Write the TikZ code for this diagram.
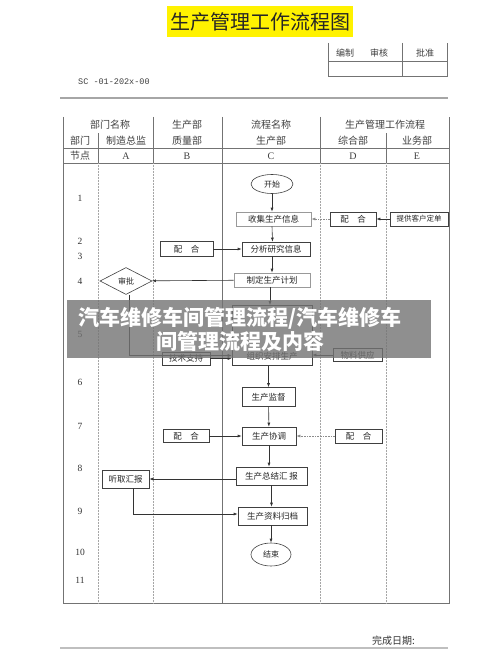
\documentclass[tikz,border=0pt]{standalone}
\usepackage{fontspec}
\setmainfont{Noto Sans CJK SC}
\newfontfamily\lat{Liberation Serif}
\newfontfamily\latmono{Liberation Mono}
\usetikzlibrary{arrows.meta,shapes.geometric}
\begin{document}
\begin{tikzpicture}[x=1pt,y=-1pt,
  box/.style={draw=black!75,line width=0.6pt,minimum height=14pt,inner sep=0pt,text=black!85,font=\fontsize{8.5}{9}\selectfont},
  lbox/.style={box,draw=black!40},
  ell/.style={ellipse,draw=black!75,line width=0.6pt,inner sep=0pt,text=black!85,font=\fontsize{8}{9}\selectfont},
  arr/.style={-{Latex[length=4pt,width=3pt]},line width=0.6pt,draw=black!80},
  darr/.style={arr,densely dotted,draw=black!45},
  tline/.style={draw=black!55,line width=0.6pt},
  dline/.style={draw=black!35,line width=0.5pt,densely dotted},
  hdr/.style={inner sep=0pt,text=black!75,font=\fontsize{10}{11}\selectfont},
  rowlbl/.style={inner sep=0pt,text=black!80,font=\lat\fontsize{9.5}{10}\selectfont},
  banner/.style={inner sep=0pt,text=white,font=\bfseries\fontsize{21}{23}\selectfont}
]
\useasboundingbox (0,0) rectangle (500,666);
\fill[white] (0,0) rectangle (500,666);

% title
\node[fill=yellow,minimum width=186,minimum height=31,inner sep=0pt,text=black!85,font=\fontsize{20}{22}\selectfont] (title) at (260,22) {生产管理工作流程图};

% sign-off table
\draw[tline] (328,43) -- (328,76) -- (447,76) -- (447,43);
\draw[tline] (402,43) -- (402,76);
\draw[tline] (328,61) -- (447,61);
\node[hdr,font=\fontsize{9}{10}\selectfont] (bz) at (345,53) {编制};
\node[hdr,font=\fontsize{9}{10}\selectfont] (sh) at (379,53) {审核};
\node[hdr,font=\fontsize{9}{10}\selectfont] (pz) at (425,53) {批准};

\node[anchor=west,inner sep=0pt,text=black!75,font=\latmono\fontsize{8.5}{9}\selectfont] (code) at (78,82) {SC -01-202x-00};

\draw[draw=black!35,line width=1.2pt] (60,98) -- (448,98);

% main table frame
\draw[tline] (63,117) -- (63,603) -- (449,603) -- (449,117);
\draw[tline] (63,148) -- (449,148);
\draw[tline] (63,163) -- (449,163);
\draw[tline] (222,117) -- (222,603);
\draw[tline] (153,117) -- (153,163);
\draw[tline] (320,117) -- (320,163);
\draw[tline] (98,133) -- (98,163);
\draw[tline] (386,133) -- (386,163);
\draw[dline] (98,163) -- (98,603);
\draw[dline] (153,163) -- (153,603);
\draw[dline] (320,163) -- (320,603);
\draw[dline] (386,163) -- (386,603);

% header texts
\node[hdr] (h1a) at (110,125) {部门名称};
\node[hdr] (h1b) at (187,125) {生产部};
\node[hdr] (h1c) at (271,125) {流程名称};
\node[hdr] (h1d) at (385,125) {生产管理工作流程};
\node[hdr] (h2a) at (80,141) {部门};
\node[hdr] (h2b) at (126,141) {制造总监};
\node[hdr] (h2c) at (187,141) {质量部};
\node[hdr] (h2d) at (271,141) {生产部};
\node[hdr] (h2e) at (353,141) {综合部};
\node[hdr] (h2f) at (417,141) {业务部};
\node[hdr] (h3a) at (80,156) {节点};
\node[hdr,font=\lat\fontsize{10}{11}\selectfont] (h3b) at (126,156) {A};
\node[hdr,font=\lat\fontsize{10}{11}\selectfont] (h3c) at (187,156) {B};
\node[hdr,font=\lat\fontsize{10}{11}\selectfont] (h3d) at (271,156) {C};
\node[hdr,font=\lat\fontsize{10}{11}\selectfont] (h3e) at (353,156) {D};
\node[hdr,font=\lat\fontsize{10}{11}\selectfont] (h3f) at (417,156) {E};

% row numbers
\node[rowlbl] (r1) at (80,198) {1};
\node[rowlbl] (r2) at (80,241) {2};
\node[rowlbl] (r3) at (80,256) {3};
\node[rowlbl] (r4) at (80,281) {4};
\node[rowlbl] (r5) at (80,334) {5};
\node[rowlbl] (r6) at (80,382) {6};
\node[rowlbl] (r7) at (80,426) {7};
\node[rowlbl] (r8) at (80,468) {8};
\node[rowlbl] (r9) at (80,511) {9};
\node[rowlbl] (r10) at (80,552) {10};
\node[rowlbl] (r11) at (80,580) {11};

% flow nodes
\node[ell,minimum width=42,minimum height=19] (start) at (272,184) {开始};
\node[lbox,minimum width=75] (collect) at (273.5,219) {收集生产信息};
\node[box,minimum width=46] (coopD1) at (353,219) {配\quad 合};
\node[box,minimum width=58,font=\fontsize{7.5}{8}\selectfont] (cust) at (419,219) {提供客户定单};
\node[box,minimum width=68] (analyze) at (276,249) {分析研究信息};
\node[box,minimum width=53,minimum height=15] (coopB1) at (186.5,249) {配\quad 合};
\node[lbox,minimum width=76] (plan) at (272,280) {制定生产计划};
\node[diamond,draw=black!75,line width=0.6pt,inner sep=0pt,aspect=1.9,minimum width=52,minimum height=27,text=black!85,font=\fontsize{8}{9}\selectfont] (approve) at (126,281) {审批};
\node[box,minimum width=80,minimum height=60] (organize) at (272,335.5) {};
\node[inner sep=0pt,text=black!85,font=\fontsize{8.5}{9}\selectfont] (organizeT) at (272,356) {组织安排生产};
\node[box,minimum width=48,minimum height=13] (tech) at (186,358.5) {技术支持};
\node[box,minimum width=49,minimum height=13] (material) at (357.5,355) {物料供应};
\node[box,minimum width=53,minimum height=19] (supervise) at (268.5,397) {生产监督};
\node[box,minimum width=54,minimum height=18] (coord) at (269,436) {生产协调};
\node[box,minimum width=46,minimum height=13] (coopB2) at (186,436) {配\quad 合};
\node[box,minimum width=47,minimum height=14] (coopD2) at (358.5,436) {配\quad 合};
\node[box,minimum width=71,minimum height=18] (summary) at (271.5,476) {生产总结汇\ 报};
\node[box,minimum width=47,minimum height=18] (listen) at (125.5,479) {听取汇报};
\node[box,minimum width=69,minimum height=18] (archive) at (272.5,516) {生产资料归档};
\node[ell,minimum width=40,minimum height=23] (finish) at (271,554.5) {结束};

% connectors
\draw[arr] (start) -- (start |- collect.north);
\draw[arr] (cust) -- (coopD1);
\draw[darr] (coopD1) -- (collect);
\draw[arr] ([xshift=-1.5pt]collect.south) -- ([xshift=-3.5pt]analyze.north);
\draw[arr] (coopB1) -- (analyze);
\draw[arr] (analyze.south -| plan.north) -- (plan.north);
\draw[arr] (plan) -- (approve);
\draw[arr] ([xshift=-2pt]plan.south) -- ([xshift=-2pt]organize.north);
\draw[arr] ([xshift=3pt]approve.south) |- ([yshift=-20pt]organize.west);
\draw[arr] (tech) -- (tech -| organize.west);
\draw[arr] (material) -- (material -| organize.east);
\draw[arr] (organize.south -| supervise.north) -- (supervise.north);
\draw[arr] (supervise) -- (coord);
\draw[arr] (coopB2) -- (coord);
\draw[darr] (coopD2) -- (coord);
\draw[arr] (coord.south) -- (summary.north -| coord.south);
\draw[arr] (summary.west |- listen) -- (listen.east);
\draw[arr] (summary.south) -- (archive.north -| summary.south);
\draw[arr] ([xshift=8pt]listen.south) |- ([yshift=2pt]archive.west);
\draw[arr] (archive.south -| finish.north) -- (finish.north);

% footer
\node[anchor=west,inner sep=0pt,text=black!80,font=\fontsize{10}{11}\selectfont] (done) at (372,641) {完成日期:};
\draw[draw=black!25,line width=1.4pt] (60,648) -- (448,648);

% overlay banner
\fill[fill={rgb,255:red,115;green,115;blue,115},opacity=0.8] (67,300) rectangle (431,358);
\node[banner] (bt1) at (240,318) {汽车维修车间管理流程/汽车维修车};
\node[banner] (bt2) at (240,341) {间管理流程及内容};
\end{tikzpicture}
\end{document}
